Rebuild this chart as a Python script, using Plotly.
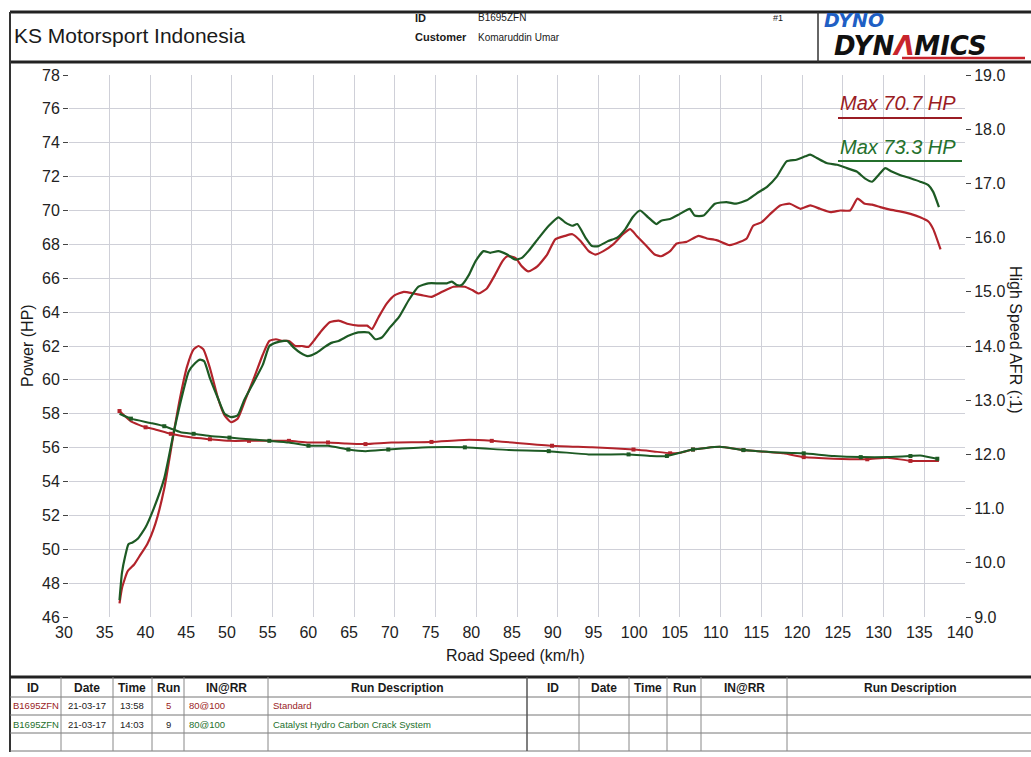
import plotly.graph_objects as go

# ---- run data -------------------------------------------------------------
# Run 5 (Standard)
speed_std = [36.2, 36.5, 37.2, 38.0, 38.8, 39.6, 40.6, 41.7, 42.9, 43.7, 44.5, 45.3, 45.9, 46.5,
             47.3, 48.3, 49.1, 49.9, 50.7, 51.7, 52.7, 53.8, 54.6, 55.4, 56.2, 57.0, 57.8, 58.6,
             59.4, 60.2, 61.0, 62.0, 63.1, 64.3, 65.5, 66.6, 67.2, 68.0, 69.0, 70.0, 71.1, 72.3,
             73.3, 74.5, 75.8, 77.2, 78.6, 79.5, 80.3, 81.3, 82.3, 83.2, 83.8, 84.8, 85.6, 86.4,
             87.5, 88.7, 89.7, 90.9, 91.8, 92.8, 93.8, 94.6, 95.6, 96.8, 98.0, 98.9, 99.7, 100.9,
             101.9, 102.7, 103.8, 104.6, 105.8, 107.3, 108.3, 109.5, 111.1, 112.4, 113.2, 114.0,
             115.0, 116.1, 117.3, 118.5, 119.8, 121.0, 122.2, 123.5, 124.7, 125.9, 126.8, 127.7,
             128.6, 129.6, 130.8, 132.0, 133.3, 134.5, 135.5, 136.1, 137.0]
power_std = [46.8, 47.7, 48.7, 49.1, 49.7, 50.3, 51.5, 53.6, 57.0, 59.1, 60.8, 61.8, 62.0, 61.8,
             60.7, 58.9, 57.9, 57.5, 57.7, 58.9, 60.1, 61.5, 62.3, 62.4, 62.3, 62.3, 62.0, 62.0,
             61.95, 62.4, 62.9, 63.4, 63.5, 63.3, 63.2, 63.2, 63.0, 63.7, 64.5, 65.0, 65.2, 65.1,
             65.0, 64.9, 65.2, 65.5, 65.5, 65.3, 65.1, 65.4, 66.2, 67.0, 67.3, 67.2, 66.7, 66.4,
             66.7, 67.4, 68.3, 68.5, 68.6, 68.2, 67.6, 67.4, 67.6, 68.0, 68.6, 68.9, 68.5, 67.9,
             67.4, 67.3, 67.6, 68.05, 68.15, 68.5, 68.35, 68.25, 67.95, 68.15, 68.35, 69.1,
             69.3, 69.8, 70.3, 70.4, 70.1, 70.3, 70.1, 69.9, 70.0, 70.0, 70.7, 70.4,
             70.35, 70.2, 70.05, 69.95, 69.8, 69.6, 69.35, 68.9, 67.7]

afr_speed_std = [36.2, 37.6, 39.4, 40.4, 42.5, 45.1, 47.3, 49.7, 52.1, 54.6, 57.0, 59.4, 61.8,
                 64.0, 66.4, 69.6, 74.5, 79.1, 81.9, 84.4, 89.3, 94.2, 99.3, 101.5, 103.8,
                 105.0, 106.6, 109.9, 112.8, 117.7, 120.2, 123.9, 128.0, 130.5, 133.3, 136.8]
afr_std = [12.80, 12.61, 12.50, 12.47, 12.38, 12.31, 12.28, 12.25, 12.25, 12.25, 12.25, 12.22,
           12.22, 12.20, 12.19, 12.22, 12.23, 12.27, 12.25, 12.22, 12.16, 12.13, 12.09, 12.06,
           12.02, 12.03, 12.09, 12.14, 12.08, 12.02, 11.95, 11.92, 11.91, 11.94, 11.88, 11.88]

# Run 9 (Catalyst Hydro Carbon Crack System)
speed_cat = [36.2, 36.5, 36.9, 37.3, 37.8, 38.4, 39.4, 40.4, 41.7, 42.9, 43.9, 44.7, 45.5, 46.1,
             46.6, 47.3, 48.3, 49.1, 49.9, 50.7, 51.5, 52.5, 53.8, 54.6, 55.4, 56.4, 56.8, 57.6,
             58.4, 59.3, 60.4, 61.4, 62.3, 63.1, 64.3, 65.5, 66.8, 67.6, 68.4, 69.4, 70.5, 71.7,
             72.9, 74.1, 75.4, 76.4, 77.0, 77.6, 78.2, 79.1, 79.9, 80.9, 81.7, 82.7, 83.8, 84.8,
             85.6, 86.4, 87.7, 88.9, 90.1, 90.9, 91.8, 92.4, 93.4, 94.2, 95.0, 96.2, 97.3, 98.3,
             99.2, 100.1, 101.1, 102.1, 102.7, 103.8, 105.0, 106.2, 106.8, 107.9, 109.3, 110.7,
             111.9, 113.2, 114.4, 115.7, 116.9, 118.1, 119.3, 120.4, 121.0, 121.8, 123.0, 124.3,
             125.5, 126.7, 127.7, 128.6, 129.4, 130.2, 131.0, 132.0, 133.3, 134.5, 135.5, 136.1,
             136.8]
power_cat = [47.0, 48.6, 49.6, 50.3, 50.4, 50.6, 51.3, 52.4, 54.2, 57.0, 59.1, 60.5, 61.0, 61.2,
             61.1, 60.1, 58.9, 58.0, 57.8, 57.9, 58.8, 59.7, 60.9, 62.0, 62.2, 62.3, 62.3, 61.9,
             61.6, 61.4, 61.6, 61.95, 62.2, 62.3, 62.6, 62.8, 62.8, 62.4, 62.5, 63.1, 63.7, 64.7,
             65.5, 65.7, 65.7, 65.7, 65.8, 65.6, 65.6, 66.2, 67.0, 67.6, 67.5, 67.6, 67.4, 67.1,
             67.2, 67.6, 68.4, 69.1, 69.6, 69.3, 69.1, 69.2, 68.4, 67.9, 67.9, 68.2, 68.4, 68.9,
             69.6, 70.0, 69.6, 69.2, 69.4, 69.5, 69.8, 70.1, 69.7, 69.7, 70.4, 70.5,
             70.4, 70.6, 71.0, 71.4, 72.0, 72.9, 73.0, 73.2, 73.3, 73.1, 72.8, 72.7,
             72.5, 72.3, 71.9, 71.7, 72.1, 72.5, 72.3, 72.1, 71.9, 71.7, 71.5, 71.1,
             70.2]

afr_speed_cat = [36.2, 37.6, 40.0, 41.7, 43.7, 45.3, 47.3, 49.7, 52.1, 54.6, 57.0, 59.4, 61.8,
                 64.3, 66.4, 69.2, 74.1, 78.6, 84.0, 88.9, 93.8, 98.7, 101.5, 103.4, 105.0,
                 106.6, 109.9, 112.8, 118.1, 120.2, 123.9, 127.2, 130.5, 133.3, 134.5, 136.6]
afr_cat = [12.75, 12.66, 12.58, 12.52, 12.41, 12.38, 12.34, 12.31, 12.28, 12.25, 12.22, 12.16,
           12.16, 12.09, 12.06, 12.09, 12.13, 12.13, 12.08, 12.06, 12.00, 12.00, 11.97, 11.97,
           12.03, 12.09, 12.14, 12.08, 12.03, 12.02, 11.97, 11.95, 11.95, 11.97, 11.98, 11.92]

# axis ticks
power_ticks = list(range(46, 79, 2))
afr_ticks = [9.0, 10.0, 11.0, 12.0, 13.0, 14.0, 15.0, 16.0, 17.0, 18.0, 19.0]
speed_ticks = list(range(30, 141, 5))

# run table
table_header = ["ID", "Date", "Time", "Run", "IN@RR", "Run Description"]
run_ids = ["B1695ZFN", "B1695ZFN"]
run_dates = ["21-03-17", "21-03-17"]
run_times = ["13:58", "14:03"]
run_nums = ["5", "9"]
run_inrr = ["80@100", "80@100"]
run_desc = ["Standard", "Catalyst Hydro Carbon Crack System"]

RED = "#b2232b"
GREEN = "#1d5a24"
RED_TXT = "#9a1c24"
GREEN_TXT = "#24702c"
FONT = "Liberation Sans, Arial, sans-serif"

W, H = 1031, 757
L, R, T, B = 69, 965, 75, 617


def px(x):
    return (x - L) / (R - L)


def py(y):
    return (B - y) / (B - T)


fig = go.Figure()

fig.add_trace(go.Scatter(x=speed_std, y=power_std, mode="lines",
                         line=dict(color=RED, width=2.2, shape="spline", smoothing=0.5)))
fig.add_trace(go.Scatter(x=speed_cat, y=power_cat, mode="lines",
                         line=dict(color=GREEN, width=2.2, shape="spline", smoothing=0.5)))
fig.add_trace(go.Scatter(x=afr_speed_std, y=afr_std, mode="lines+markers", yaxis="y2",
                         line=dict(color=RED, width=2, shape="spline", smoothing=0.5),
                         marker=dict(color=RED, size=4, symbol="square", maxdisplayed=22)))
fig.add_trace(go.Scatter(x=afr_speed_cat, y=afr_cat, mode="lines+markers", yaxis="y2",
                         line=dict(color=GREEN, width=2, shape="spline", smoothing=0.5),
                         marker=dict(color=GREEN, size=4, symbol="square", maxdisplayed=22)))

shapes = []
annotations = []


def hline(y, x0, x1, w=1, color="#555"):
    shapes.append(dict(type="line", xref="paper", yref="paper", x0=px(x0), x1=px(x1),
                       y0=py(y), y1=py(y), line=dict(color=color, width=w)))


def vline(x, y0, y1, w=1, color="#555"):
    shapes.append(dict(type="line", xref="paper", yref="paper", x0=px(x), x1=px(x),
                       y0=py(y0), y1=py(y1), line=dict(color=color, width=w)))


def text(x, y, s, size=12, color="#1a1a1a", xanchor="left", family=FONT, angle=0):
    annotations.append(dict(x=px(x), y=py(y), xref="paper", yref="paper", text=s,
                            showarrow=False, xanchor=xanchor, yanchor="middle",
                            textangle=angle, font=dict(size=size, color=color, family=family)))


# page frame and header
hline(12, 10, W, w=3, color="#222")
hline(62, 10, W, w=3, color="#222")
vline(10, 12, 752, w=2, color="#333")
vline(818, 12, 62, w=1.5, color="#333")

text(12, 36, "KS Motorsport Indonesia", size=21)
text(413, 18, "<b>ID</b>", size=11)
text(476, 18, "B1695ZFN", size=10)
text(413, 37, "<b>Customer</b>", size=11)
text(476, 37, "Komaruddin Umar", size=10)
text(771, 18, "#1", size=9)

# logo
text(822, 20, "<b><i>DYNO</i></b>", size=19, color="#1f5fc4", family="DejaVu Sans, sans-serif")
text(832, 46, "<b><i>DYN<span style='color:#c8242c'>Λ</span>MICS</i></b>", size=26,
     color="#111", family="DejaVu Sans, sans-serif")
hline(58, 902, 1025, w=2.5, color="#c8242c")

# axis titles
text(515, 655, "Road Speed (km/h)", size=16, xanchor="center")
text(27, 346, "Power (HP)", size=16, xanchor="center", angle=-90)
text(1016, 340, "High Speed AFR (:1)", size=16, xanchor="center", angle=90)

# max power labels
text(958, 103, "<i>Max 70.7 HP</i>", size=20, color=RED_TXT, xanchor="right")
hline(118, 838, 962, w=2, color=RED_TXT)
text(958, 147, "<i>Max 73.3 HP</i>", size=20, color=GREEN_TXT, xanchor="right")
hline(161, 838, 962, w=2, color=GREEN_TXT)

# run table
hline(677, 10, W, w=3, color="#222")
for yy in (697, 715, 733, 751):
    hline(yy, 10, W, w=1, color="#777")
for xx in (61, 113, 152, 184, 268, 579, 629, 667, 701, 787):
    vline(xx, 677, 751, w=1, color="#888")
vline(527, 677, 751, w=1.5, color="#555")

left_centers = [33, 87, 132, 168, 226, 397]
right_centers = [553, 604, 648, 684, 744, 910]
for centers in (left_centers, right_centers):
    for cx, h in zip(centers, table_header):
        text(cx, 688, "<b>" + h + "</b>", size=12, xanchor="center")

row_y = [706, 724]
row_col = [RED_TXT, GREEN_TXT]
for i in range(2):
    c = row_col[i]
    text(11, row_y[i], run_ids[i], size=9.5, color=c)
    text(87, row_y[i], run_dates[i], size=9.5, color="#222", xanchor="center")
    text(132, row_y[i], run_times[i], size=9.5, color="#222", xanchor="center")
    text(168, row_y[i], run_nums[i], size=9.5, color=c if i == 0 else "#222", xanchor="center")
    text(187, row_y[i], run_inrr[i], size=9.5, color=c)
    text(271, row_y[i], run_desc[i], size=9.5, color=c)

grid = "#cfd0d8"
tickfont = dict(size=16, color="#222", family=FONT)

fig.update_layout(
    width=W, height=H, autosize=False,
    margin=dict(l=L, r=W - R, t=T, b=H - B, pad=0),
    paper_bgcolor="white", plot_bgcolor="white",
    showlegend=False,
    shapes=shapes, annotations=annotations,
    xaxis=dict(range=[30, 140], tickvals=speed_ticks, ticks="", showline=False, zeroline=False,
               showgrid=True, gridcolor=grid, gridwidth=1, tickfont=tickfont,
               ticklabelshift=-5, ticklabelstandoff=4),
    yaxis=dict(range=[46, 78], tickvals=power_ticks, ticks="outside", ticklen=5, tickcolor="#444",
               showline=False, zeroline=False, showgrid=True, gridcolor=grid, gridwidth=1,
               tickfont=tickfont, ticklabelstandoff=0),
    yaxis2=dict(range=[9, 19], tickvals=afr_ticks, tickformat=".1f", overlaying="y", side="right",
                ticks="outside", ticklen=5, tickcolor="#444", showgrid=False, zeroline=False,
                showline=False, tickfont=tickfont, ticklabelstandoff=0),
)

fig.write_html("out.html")
